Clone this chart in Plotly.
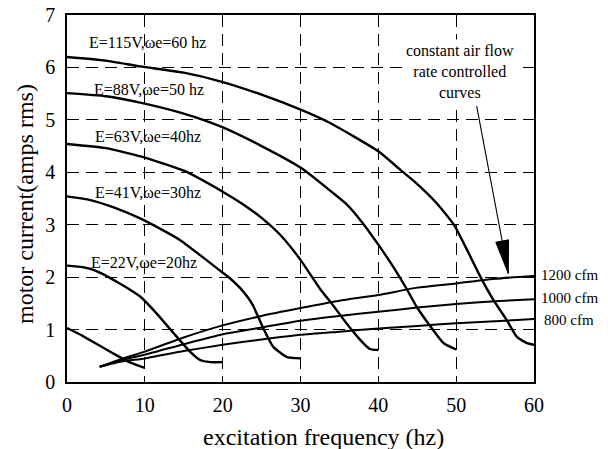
import plotly.graph_objects as go

# ---------------- data ----------------
# falling curves (motor current vs excitation frequency for fixed supply)
x_10hz = [0, 2, 4, 6, 8, 10]
y_10hz = [1.03, 0.88, 0.71, 0.54, 0.38, 0.27]

x_20hz = [0, 2, 3.4, 5, 6.4, 8, 9.4, 11.5, 13.7, 15.8, 17.1, 18.4, 20]
y_20hz = [2.22, 2.19, 2.14, 2.03, 1.91, 1.77, 1.63, 1.31, 0.93, 0.58, 0.42, 0.38, 0.38]

x_30hz = [0, 3, 6, 9.4, 12, 14.5, 17.1, 19.7, 21, 22.2, 23.2, 23.9, 25.2, 26.5, 28.2, 30]
y_30hz = [3.54, 3.47, 3.33, 3.12, 2.92, 2.71, 2.42, 2.12, 1.97, 1.8, 1.62, 1.46, 1.03, 0.67, 0.48, 0.45]

x_40hz = [0, 5, 10, 15, 20, 22.5, 25, 27.5, 30, 32.5, 34.2, 35.9, 37.7, 38.9, 40]
y_40hz = [4.54, 4.46, 4.28, 4.03, 3.63, 3.4, 3.13, 2.79, 2.33, 1.78, 1.46, 1.12, 0.8, 0.63, 0.61]

x_50hz = [0, 5, 9.4, 15, 19.8, 25, 30.1, 33.8, 36, 38, 40, 41.9, 43.7, 44.9, 46.7, 48.4, 50]
y_50hz = [5.51, 5.45, 5.33, 5.12, 4.87, 4.5, 4.08, 3.65, 3.38, 3.03, 2.62, 2.2, 1.76, 1.44, 1.06, 0.74, 0.62]

x_60hz = [0, 5, 9.4, 15, 19.8, 25, 30.1, 33.8, 40, 42.8, 44.9, 47.5, 49.7, 51.4, 53.1, 54.8, 56.5, 57.8, 59.1, 60]
y_60hz = [6.2, 6.13, 6.02, 5.9, 5.73, 5.48, 5.19, 4.94, 4.4, 4.05, 3.79, 3.41, 3.0, 2.52, 2.01, 1.56, 1.18, 0.86, 0.74, 0.71]

# constant air flow rate controlled curves
x_cfm = [4.2, 7, 10, 15, 20, 25, 30, 35, 40, 45, 50, 55, 60]
y_1200 = [0.29, 0.44, 0.58, 0.85, 1.08, 1.26, 1.41, 1.55, 1.66, 1.8, 1.88, 1.97, 2.02]
y_1000 = [0.29, 0.42, 0.52, 0.72, 0.91, 1.04, 1.17, 1.26, 1.34, 1.42, 1.49, 1.54, 1.58]
y_800 = [0.29, 0.39, 0.45, 0.59, 0.71, 0.81, 0.9, 0.96, 1.02, 1.07, 1.12, 1.16, 1.2]

curve_labels = ["E=115V,\u03c9e=60 hz", "E=88V,\u03c9e=50 hz", "E=63V,\u03c9e=40hz",
                "E=41V,\u03c9e=30hz", "E=22V,\u03c9e=20hz"]
label_x = [2.6, 3.2, 3.3, 3.3, 2.8]
label_y = [6.47, 5.57, 4.68, 3.61, 2.27]
cfm_labels = ["1200 cfm", "1000 cfm", "800 cfm"]

x_ticks = [0, 10, 20, 30, 40, 50, 60]
y_ticks = [0, 1, 2, 3, 4, 5, 6, 7]

# ---------------- figure ----------------
FONT = "Liberation Serif"
OFF = 8                      # page body margin in the browser
W, H = 608, 449
# plot area on screen: x 67..534, y 15..382
PL, PR, PT, PB = 67, 534, 15, 382
PW, PH = PR - PL, PB - PT
ML, MT = PL - OFF, PT - OFF
MR, MB = W - (PR - OFF), H - (PB - OFF)
XR, YR = [0, 60], [0, 7]

def px(sx):
    return (sx - PL) / PW

def py(sy):
    return (PB - sy) / PH

fig = go.Figure()
for xs, ys in [(x_10hz, y_10hz), (x_20hz, y_20hz), (x_30hz, y_30hz),
               (x_40hz, y_40hz), (x_50hz, y_50hz), (x_60hz, y_60hz)]:
    fig.add_trace(go.Scatter(x=xs, y=ys, mode="lines",
                             line=dict(color="black", width=2.4, shape="spline", smoothing=0.5),
                             showlegend=False, hoverinfo="skip"))
for ys in [y_1200, y_1000, y_800]:
    fig.add_trace(go.Scatter(x=x_cfm, y=ys, mode="lines",
                             line=dict(color="black", width=2.0, shape="spline", smoothing=0.5),
                             showlegend=False, hoverinfo="skip"))

ann = []
for t, lx, ly in zip(curve_labels, label_x, label_y):
    ann.append(dict(x=lx, y=ly, xref="x", yref="y", text=t, showarrow=False,
                    xanchor="left", yanchor="middle",
                    font=dict(family=FONT, size=16, color="black")))
for t, sy in zip(cfm_labels, [275, 298.3, 320]):
    ann.append(dict(x=px(569), y=py(sy), xref="paper", yref="paper", text=t,
                    xanchor="center", yanchor="middle",
                    showarrow=False, font=dict(family=FONT, size=15, color="black")))
ann.append(dict(x=50.5, y=5.93, xref="x", yref="y", text="constant air flow<br>rate controlled<br>curves",
                xanchor="center", yanchor="middle",
                showarrow=False, bgcolor="white", borderpad=2,
                font=dict(family=FONT, size=16, color="black")))

# arrow line from the text to the 1200 cfm curve
tip = (56.7, 2.07)
tail = (52.6, 5.29)
sx, sy = PW / (XR[1] - XR[0]), PH / (YR[1] - YR[0])
ann.append(dict(x=tip[0], y=tip[1], ax=tail[0], ay=tail[1], xref="x", yref="y", axref="x", ayref="y",
                text="", showarrow=True, arrowhead=0, arrowwidth=1.1, arrowcolor="black"))
# slender arrow head
dxp, dyp = (tip[0] - tail[0]) * sx, -(tip[1] - tail[1]) * sy
L = (dxp ** 2 + dyp ** 2) ** 0.5
ux, uy = dxp / L, dyp / L
hl, hw = 33, 6.5
bx, by = -ux * hl, -uy * hl
p1 = (bx + uy * hw, by - ux * hw)
p2 = (bx - uy * hw, by + ux * hw)

def to_data(p):
    return tip[0] + p[0] / sx, tip[1] - p[1] / sy

a, b = to_data(p1), to_data(p2)
path = f"M {tip[0]},{tip[1]} L {a[0]},{a[1]} L {b[0]},{b[1]} Z"
shapes = [dict(type="path", path=path, xref="x", yref="y", fillcolor="black",
               line=dict(color="black", width=1))]

ann.append(dict(x=px(323), y=py(436.7), xref="paper", yref="paper",
                xanchor="center", yanchor="middle",
                text="excitation frequency (hz)", showarrow=False,
                font=dict(family=FONT, size=24, color="black")))
ann.append(dict(x=px(25), y=py(204), xref="paper", yref="paper",
                xanchor="center", yanchor="middle",
                text="motor current(amps rms)", showarrow=False, textangle=-90,
                font=dict(family=FONT, size=24, color="black")))

axis_common = dict(showgrid=True, gridcolor="black", gridwidth=1, griddash="12px,7px",
                   zeroline=False, showline=True, linecolor="black", linewidth=1.5, mirror=True,
                   ticks="", automargin=False, ticklabeloverflow="allow",
                   tickfont=dict(family=FONT, size=20, color="black"))
fig.update_layout(
    width=W, height=H, margin=dict(l=ML, r=MR, t=MT, b=MB, autoexpand=False),
    paper_bgcolor="white", plot_bgcolor="white",
    annotations=ann, shapes=shapes,
    xaxis=dict(range=XR, tickvals=x_ticks, ticklabelstandoff=4, **axis_common),
    yaxis=dict(range=YR, tickvals=y_ticks, ticklabelstandoff=6, **axis_common),
)
fig.write_html("out.html")
